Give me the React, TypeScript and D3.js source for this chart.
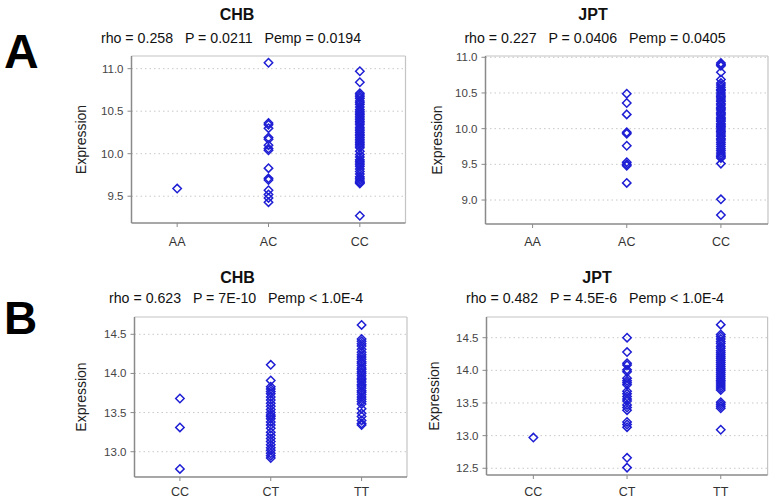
import React from "react";
import * as d3 from "d3";

// ---------- data ----------
const catsA = ["AA", "AC", "CC"];
const catsB = ["CC", "CT", "TT"];

const chbA_AA = [9.59];
const chbA_AC = [11.07, 10.36, 10.34, 10.30, 10.19, 10.17, 10.10, 10.06, 10.04, 9.83, 9.71, 9.69, 9.57, 9.52, 9.48, 9.43];
const chbA_CC = [10.97, 10.84, 10.71, 10.69, 10.67, 10.65, 10.62, 10.60, 10.58, 10.55, 10.52, 10.50, 10.48, 10.46, 10.44, 10.42, 10.40, 10.38, 10.36, 10.34, 10.31, 10.29, 10.27, 10.25, 10.23, 10.21, 10.19, 10.17, 10.15, 10.13, 10.11, 10.09, 10.07, 10.03, 9.99, 9.96, 9.93, 9.91, 9.89, 9.87, 9.85, 9.82, 9.79, 9.76, 9.73, 9.71, 9.69, 9.67, 9.66, 9.65, 9.27];

const jptA_AA: number[] = [];
const jptA_AC = [10.49, 10.36, 10.20, 9.95, 9.93, 9.76, 9.53, 9.50, 9.48, 9.24];
const jptA_CC = [10.92, 10.90, 10.88, 10.79, 10.69, 10.64, 10.61, 10.58, 10.55, 10.53, 10.50, 10.47, 10.45, 10.43, 10.40, 10.38, 10.35, 10.33, 10.30, 10.28, 10.26, 10.23, 10.21, 10.19, 10.16, 10.14, 10.12, 10.10, 10.07, 10.05, 10.03, 10.01, 9.98, 9.96, 9.94, 9.91, 9.89, 9.86, 9.84, 9.81, 9.78, 9.75, 9.72, 9.69, 9.66, 9.63, 9.61, 9.59, 9.51, 9.01, 8.79];

const chbB_CC = [13.68, 13.31, 12.78];
const chbB_CT = [14.11, 13.91, 13.83, 13.80, 13.77, 13.74, 13.70, 13.66, 13.62, 13.58, 13.54, 13.50, 13.47, 13.45, 13.42, 13.38, 13.34, 13.30, 13.25, 13.21, 13.17, 13.13, 13.09, 13.05, 13.02, 12.98, 12.95, 12.92];
const chbB_TT = [14.62, 14.44, 14.41, 14.38, 14.35, 14.31, 14.27, 14.24, 14.21, 14.18, 14.15, 14.13, 14.10, 14.07, 14.05, 14.02, 14.00, 13.97, 13.94, 13.92, 13.89, 13.86, 13.84, 13.81, 13.78, 13.76, 13.73, 13.70, 13.67, 13.64, 13.61, 13.55, 13.49, 13.45, 13.40, 13.36, 13.34];

const jptB_CC = [12.97];
const jptB_CT = [14.50, 14.28, 14.11, 14.08, 14.01, 13.98, 13.88, 13.84, 13.81, 13.78, 13.68, 13.64, 13.60, 13.56, 13.53, 13.47, 13.43, 13.39, 13.21, 13.17, 13.13, 12.66, 12.51];
const jptB_TT = [14.70, 14.55, 14.52, 14.48, 14.44, 14.41, 14.37, 14.34, 14.30, 14.27, 14.24, 14.21, 14.18, 14.15, 14.12, 14.09, 14.06, 14.03, 14.00, 13.97, 13.94, 13.91, 13.88, 13.85, 13.82, 13.79, 13.76, 13.73, 13.70, 13.51, 13.48, 13.45, 13.42, 13.09];

const ticksChbA = [9.5, 10.0, 10.5, 11.0];
const ticksJptA = [9.0, 9.5, 10.0, 10.5, 11.0];
const ticksChbB = [13.0, 13.5, 14.0, 14.5];
const ticksJptB = [12.5, 13.0, 13.5, 14.0, 14.5];

const titles = ["CHB", "JPT", "CHB", "JPT"];
const subtitles = [
  "rho = 0.258   P = 0.0211   Pemp = 0.0194",
  "rho = 0.227   P = 0.0406   Pemp = 0.0405",
  "rho = 0.623   P = 7E-10   Pemp < 1.0E-4",
  "rho = 0.482   P = 4.5E-6   Pemp < 1.0E-4",
];

// ---------- layout ----------
type Panel = {
  cats: string[];
  groups: number[][];
  ticks: number[];
  domain: [number, number];
  x0: number; x1: number; y0: number; y1: number;
  titleX: number; titleY: number; subX: number; subY: number;
  ylabX: number; catY: number;
  title: string; sub: string;
};

const panels: Panel[] = [
  { cats: catsA, groups: [chbA_AA, chbA_AC, chbA_CC], ticks: ticksChbA, domain: [9.185, 11.149],
    x0: 131.5, x1: 405.5, y0: 56, y1: 223, titleX: 237, titleY: 20, subX: 231, subY: 43, ylabX: 86, catY: 246,
    title: titles[0], sub: subtitles[0] },
  { cats: catsA, groups: [jptA_AA, jptA_AC, jptA_CC], ticks: ticksJptA, domain: [8.664, 11.018],
    x0: 485.5, x1: 768, y0: 56, y1: 224, titleX: 593, titleY: 20, subX: 595, subY: 43, ylabX: 442, catY: 246,
    title: titles[1], sub: subtitles[1] },
  { cats: catsB, groups: [chbB_CC, chbB_CT, chbB_TT], ticks: ticksChbB, domain: [12.677, 14.721],
    x0: 134.5, x1: 407, y0: 317, y1: 477, titleX: 237.5, titleY: 283, subX: 236, subY: 303, ylabX: 86, catY: 496,
    title: titles[2], sub: subtitles[2] },
  { cats: catsB, groups: [jptB_CC, jptB_CT, jptB_TT], ticks: ticksJptB, domain: [12.397, 14.817],
    x0: 486.5, x1: 767.6, y0: 317, y1: 475, titleX: 597, titleY: 283, subX: 595, subY: 303, ylabX: 439, catY: 496,
    title: titles[3], sub: subtitles[3] },
];

const FONT = "Liberation Sans, Arial, sans-serif";
const BLUE = "#1e1ed4";
const fmt = d3.format(".1f");

function diamond(cx: number, cy: number, r: number) {
  return `M${cx},${cy - r}L${cx + r},${cy}L${cx},${cy + r}L${cx - r},${cy}Z`;
}

function PanelView({ p }: { p: Panel }) {
  const x = d3.scaleBand<string>().domain(p.cats).range([p.x0, p.x1]).padding(0);
  const y = d3.scaleLinear().domain(p.domain).range([p.y1, p.y0]);
  const cx = (c: string) => (x(c) as number) + x.bandwidth() / 2;
  const midY = (p.y0 + p.y1) / 2;
  return (
    <g>
      <text x={p.titleX} y={p.titleY} textAnchor="middle" fontFamily={FONT} fontWeight="bold" fontSize={16} fill="#111">{p.title}</text>
      <text x={p.subX} y={p.subY} textAnchor="middle" fontFamily={FONT} fontSize={14.2} fill="#111" style={{ whiteSpace: "pre" }}>{p.sub}</text>
      {/* grid */}
      {p.ticks.map((t) => (
        <line key={"g" + t} x1={p.x0} x2={p.x1} y1={y(t)} y2={y(t)} stroke="#c8c8c8" strokeWidth={1} strokeDasharray="1.5,3" />
      ))}
      {/* frame */}
      <line x1={p.x0} x2={p.x1} y1={p.y0} y2={p.y0} stroke="#c4c4c4" strokeWidth={1.2} />
      <line x1={p.x1} x2={p.x1} y1={p.y0} y2={p.y1} stroke="#c4c4c4" strokeWidth={1.2} />
      <line x1={p.x0} x2={p.x0} y1={p.y0} y2={p.y1} stroke="#8a8a8a" strokeWidth={1.5} />
      <line x1={p.x0} x2={p.x1} y1={p.y1} y2={p.y1} stroke="#8a8a8a" strokeWidth={1.5} />
      {/* y ticks */}
      {p.ticks.map((t) => (
        <g key={"t" + t}>
          <line x1={p.x0 - 4} x2={p.x0} y1={y(t)} y2={y(t)} stroke="#8a8a8a" strokeWidth={1} />
          <text x={p.x0 - 8} y={y(t) + 4} textAnchor="end" fontFamily={FONT} fontSize={11.5} fill="#444">{fmt(t)}</text>
        </g>
      ))}
      {/* x ticks */}
      {p.cats.map((c) => (
        <g key={"c" + c}>
          <line x1={cx(c)} x2={cx(c)} y1={p.y1} y2={p.y1 + 4} stroke="#8a8a8a" strokeWidth={1} />
          <text x={cx(c)} y={p.catY} textAnchor="middle" fontFamily={FONT} fontSize={12.5} fill="#333">{c}</text>
        </g>
      ))}
      <text transform={`translate(${p.ylabX},${midY}) rotate(-90)`} textAnchor="middle" fontFamily={FONT} fontSize={14} fill="#222">Expression</text>
      {/* points */}
      {p.groups.map((vals, i) =>
        vals.map((v, j) => (
          <path key={i + "-" + j} d={diamond(cx(p.cats[i]), y(v), 4.2)} fill="none" stroke={BLUE} strokeWidth={1.5} />
        ))
      )}
    </g>
  );
}

export default function App() {
  return (
    <svg width={772} height={502} style={{ position: "absolute", left: 0, top: 0, background: "#fff" }}>
      <rect x={0} y={0} width={772} height={502} fill="#fff" />
      <text x={4} y={68} fontFamily={FONT} fontWeight="bold" fontSize={48} fill="#000">A</text>
      <text x={4} y={334} fontFamily={FONT} fontWeight="bold" fontSize={46} fill="#000">B</text>
      {panels.map((p, i) => (
        <PanelView key={i} p={p} />
      ))}
    </svg>
  );
}
